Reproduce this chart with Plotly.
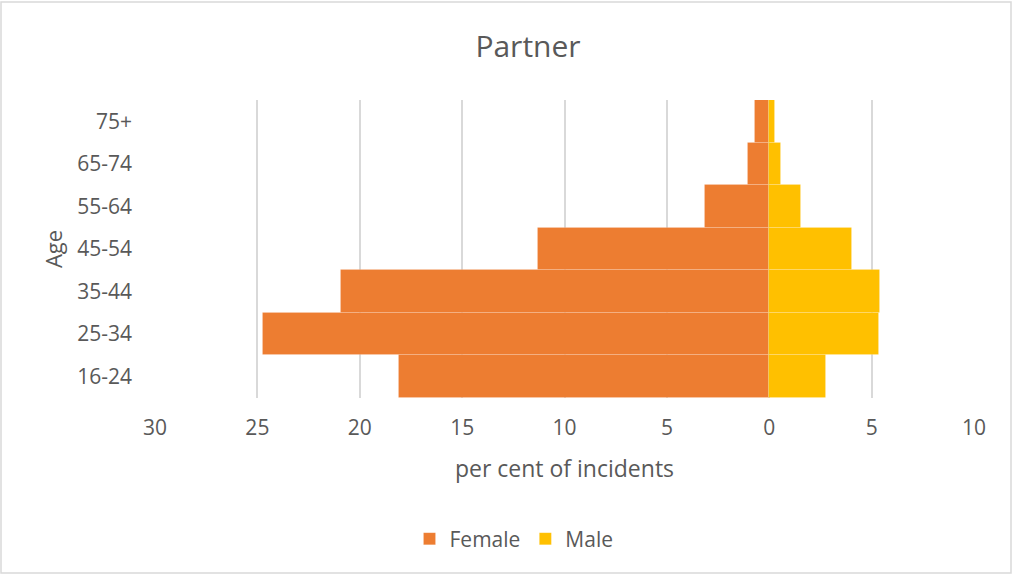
import plotly.graph_objects as go

ages = ["16-24", "25-34", "35-44", "45-54", "55-64", "65-74", "75+"]
female = [18.1, 24.74, 20.94, 11.3, 3.13, 1.03, 0.70]
male = [2.79, 5.36, 5.40, 4.03, 1.55, 0.57, 0.29]
tick_vals = [-30, -25, -20, -15, -10, -5, 0, 5, 10]
tick_text = ["30", "25", "20", "15", "10", "5", "0", "5", "10"]

W, H = 1013, 575
L, R, T, B = 155, 39, 100, 177
pw, ph = W - L - R, H - T - B

font = "Open Sans"
grey = "#595959"

fig = go.Figure()
fig.add_trace(go.Bar(
    y=ages, x=[-v for v in female], orientation="h", name="Female",
    marker=dict(color="#ED7D31", line=dict(color="rgba(255,255,255,0.15)", width=1)),
))
fig.add_trace(go.Bar(
    y=ages, x=male, orientation="h", name="Male",
    marker=dict(color="#FFC000", line=dict(color="rgba(255,255,255,0.15)", width=1)),
))

def px_x(p):
    return (p - L) / pw

def px_y(p):
    return (H - B - p) / ph

fig.update_layout(
    width=W, height=H,
    barmode="relative", bargap=0,
    margin=dict(l=L, r=R, t=T, b=B, autoexpand=False),
    plot_bgcolor="white", paper_bgcolor="white",
    font=dict(family=font, color=grey, size=21),
    title=dict(text="Partner", x=528 / W, xanchor="center", y=1 - 46 / H, yanchor="middle",
               font=dict(size=30, color=grey, family=font)),
    xaxis=dict(range=[-30, 10], tickvals=tick_vals, ticktext=tick_text,
               showgrid=True, gridcolor="#D9D9D9", gridwidth=2,
               zeroline=True, zerolinecolor="#D0D0D0", zerolinewidth=2,
               showline=False, ticks="", ticklabelstandoff=15,
               tickfont=dict(size=21, color=grey),
               title=dict(text="per cent of incidents", font=dict(size=23, color=grey), standoff=20)),
    yaxis=dict(categoryorder="array", categoryarray=ages, showgrid=False, zeroline=False,
               ticks="", ticklabelstandoff=22, tickfont=dict(size=21, color=grey),
               title=dict(text="Age", font=dict(size=22, color=grey), standoff=8)),
    legend=dict(orientation="h", x=px_x(514), xanchor="center", y=px_y(539), yanchor="middle",
                font=dict(size=21, color=grey), itemwidth=30, traceorder="normal"),
    shapes=[dict(type="rect", xref="paper", yref="paper",
                 x0=px_x(1), x1=px_x(1011), y0=px_y(573), y1=px_y(2),
                 line=dict(color="#D9D9D9", width=1.5), layer="below")],
)

fig.write_html("out.html", config={"displayModeBar": False},
               post_script="document.body.style.margin='0px';")
